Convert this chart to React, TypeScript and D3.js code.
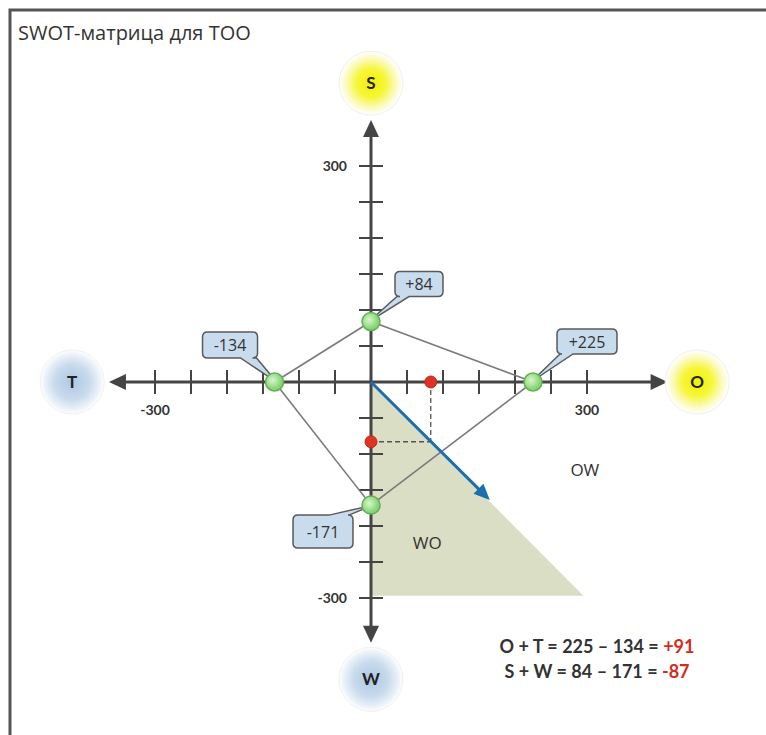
import React from 'react';
import {scaleLinear, range} from 'd3';

// SWOT scores
const axisNames = ['S', 'O', 'W', 'T'];
const axisScores = [84, 225, -171, -134];
const calloutLabels = ['+84', '+225', '-171', '-134'];
const tickValues = range(-300, 301, 50).filter((v) => v !== 0);
const tickLabels = ['300', '-300'];
const resultPoint = [83, -83];
const strategyEnd = [165, -164];
const woZone = [[0, 0], [0, -297], [295, -297]];
const quadrantLabels = ['OW', 'WO'];
const quadrantPos = [[297, -122], [78, -224]];
const formulaLines = ['O + T = 225 \u2013 134 = ', 'S + W = 84 \u2013 171 = '];
const formulaResults = ['+91', '-87'];

const width = 766;
const height = 735;
const origin = {x: 371, y: 382};
const unit = 0.72;

const x = scaleLinear().domain([-300, 300]).range([origin.x - 300 * unit, origin.x + 300 * unit]);
const y = scaleLinear().domain([-300, 300]).range([origin.y + 300 * unit, origin.y - 300 * unit]);

const axisColor = '#444';

// axis direction vectors for S, O, W, T
const dirs = [[0, 1], [1, 0], [0, -1], [-1, 0]];
const axisReach = [364, 412, 362, 364];
const bubbleDist = [415, 453, 413, 415];
const bubbleGlow = ['yellow', 'yellow', 'blue', 'blue'];

// callout boxes relative to their point: [left, top, right, bottom], tail base on an edge
const calloutBoxes = [
  {box: [24, -50, 72, -25], edge: 'bottom', base: [26, 38]},
  {box: [24, -53, 84, -28], edge: 'bottom', base: [27, 40]},
  {box: [-78, 10, -18, 43], edge: 'top', base: [-42, -22]},
  {box: [-72, -50, -17, -24], edge: 'bottom', base: [-34, -18]},
];

function calloutPath(px: number, py: number, c: any) {
  const [l, t, r, b] = c.box;
  const x0 = px + l, y0 = py + t, x1 = px + r, y1 = py + b;
  const rr = 5;
  const a = px + c.base[0], bb = px + c.base[1];
  const tipX = px - Math.sign(l + r) * 2;
  const tipY = py;
  if (c.edge === 'bottom') {
    return `M${x0 + rr},${y0} H${x1 - rr} Q${x1},${y0} ${x1},${y0 + rr} V${y1 - rr} Q${x1},${y1} ${x1 - rr},${y1}`
      + ` H${Math.max(a, bb)} L${tipX},${tipY} L${Math.min(a, bb)},${y1} H${x0 + rr} Q${x0},${y1} ${x0},${y1 - rr}`
      + ` V${y0 + rr} Q${x0},${y0} ${x0 + rr},${y0} Z`;
  }
  return `M${x0 + rr},${y0} H${Math.min(a, bb)} L${tipX},${tipY} L${Math.max(a, bb)},${y0} H${x1 - rr}`
    + ` Q${x1},${y0} ${x1},${y0 + rr} V${y1 - rr} Q${x1},${y1} ${x1 - rr},${y1} H${x0 + rr}`
    + ` Q${x0},${y1} ${x0},${y1 - rr} V${y0 + rr} Q${x0},${y0} ${x0 + rr},${y0} Z`;
}

function arrowHead(tx: number, ty: number, dx: number, dy: number, len: number, half: number) {
  const n = Math.hypot(dx, dy);
  const ux = dx / n, uy = dy / n;
  const bx = tx - ux * len, by = ty - uy * len;
  return `${tx},${ty} ${bx - uy * half},${by + ux * half} ${bx + uy * half},${by - ux * half}`;
}

export default function App() {
  // each score sits on its own half-axis, at its absolute value
  const pts = axisScores.map((v, i) => [x(dirs[i][0] * Math.abs(v)), y(dirs[i][1] * Math.abs(v))]);
  const [S, O, W, T] = pts;
  const rx = x(resultPoint[0]);
  const ry = y(resultPoint[1]);

  return (
    <svg width={width} height={height} style={{position: 'absolute', left: 0, top: 0, background: '#fff'}}>
      <defs>
        <radialGradient id="yellow">
          <stop offset="0%" stopColor="#f2f200" />
          <stop offset="45%" stopColor="#f6f63a" />
          <stop offset="80%" stopColor="#fbfbc8" />
          <stop offset="100%" stopColor="#ffffff" />
        </radialGradient>
        <radialGradient id="blue">
          <stop offset="0%" stopColor="#adc8e3" />
          <stop offset="55%" stopColor="#c9dbed" />
          <stop offset="85%" stopColor="#eaf1f8" />
          <stop offset="100%" stopColor="#ffffff" />
        </radialGradient>
        <radialGradient id="green" cx="40%" cy="40%">
          <stop offset="0%" stopColor="#d8f7cc" />
          <stop offset="100%" stopColor="#86d474" />
        </radialGradient>
      </defs>

      {/* frame */}
      <path d={`M10,${height + 5} V10 H${width + 5}`} fill="none" stroke="#555" strokeWidth={3} />
      <text x={18} y={40} fontFamily="Open Sans, sans-serif" fontSize={20} fill="#333">SWOT-матрица для ТОО</text>

      {/* WO zone */}
      <polygon points={woZone.map((p) => `${x(p[0])},${y(p[1])}`).join(' ')} fill="#d9dec4" />

      {/* axes */}
      {dirs.map((d, i) => {
        const ex = x(d[0] * axisReach[i]);
        const ey = y(d[1] * axisReach[i]);
        return (
          <g key={axisNames[i]}>
            <line x1={origin.x} y1={origin.y} x2={ex - d[0] * 10} y2={ey + d[1] * 10} stroke={axisColor} strokeWidth={3} />
            <polygon points={arrowHead(ex, ey, d[0], -d[1], 17, 8)} fill={axisColor} />
          </g>
        );
      })}
      {tickValues.map((v) => (
        <g key={`t${v}`}>
          <line x1={x(v)} x2={x(v)} y1={origin.y - 12} y2={origin.y + 12} stroke={axisColor} strokeWidth={2} />
          <line y1={y(v)} y2={y(v)} x1={origin.x - 12} x2={origin.x + 12} stroke={axisColor} strokeWidth={2} />
        </g>
      ))}
      <g fontFamily="Lato, sans-serif" fontWeight="bold" fontSize={14} fill="#333">
        <text x={x(-300)} y={origin.y + 33} textAnchor="middle">{tickLabels[1]}</text>
        <text x={x(300)} y={origin.y + 33} textAnchor="middle">{tickLabels[0]}</text>
        <text x={origin.x - 24} y={y(300) + 5} textAnchor="end">{tickLabels[0]}</text>
        <text x={origin.x - 24} y={y(-300) + 5} textAnchor="end">{tickLabels[1]}</text>
      </g>

      {/* axis bubbles */}
      {dirs.map((d, i) => (
        <g key={`b${i}`}>
          <circle cx={x(d[0] * bubbleDist[i])} cy={y(d[1] * bubbleDist[i])} r={32}
            fill={`url(#${bubbleGlow[i]})`} stroke="#f0f0f0" strokeWidth={1} />
          <text x={x(d[0] * bubbleDist[i])} y={y(d[1] * bubbleDist[i]) + 6} textAnchor="middle"
            fontFamily="Lato, sans-serif" fontWeight="bold" fontSize={17} fill="#222">{axisNames[i]}</text>
        </g>
      ))}

      {/* polygon connecting scores */}
      <g stroke="#7a7a7a" strokeWidth={1.6} fill="none">
        <line x1={S[0]} y1={S[1]} x2={T[0]} y2={T[1]} />
        <line x1={S[0]} y1={S[1]} x2={O[0]} y2={O[1]} />
        <line x1={W[0]} y1={W[1]} x2={T[0]} y2={T[1]} />
        <line x1={W[0]} y1={W[1]} x2={O[0]} y2={O[1]} />
      </g>

      {/* result projections */}
      <g stroke="#555" strokeWidth={1.3} strokeDasharray="5,3" fill="none">
        <line x1={rx} y1={origin.y} x2={rx} y2={ry} />
        <line x1={origin.x} y1={ry} x2={rx} y2={ry} />
      </g>

      {/* strategy vector */}
      <line x1={origin.x} y1={origin.y} x2={x(strategyEnd[0]) - 6} y2={y(strategyEnd[1]) - 6} stroke="#1b6fae" strokeWidth={3} />
      <polygon points={arrowHead(x(strategyEnd[0]), y(strategyEnd[1]), 1, 1, 16, 7)} fill="#1b6fae" />

      <circle cx={rx} cy={origin.y} r={6} fill="#dd3322" stroke="#c02818" strokeWidth={1} />
      <circle cx={origin.x} cy={ry} r={6} fill="#dd3322" stroke="#c02818" strokeWidth={1} />

      {/* callouts */}
      {pts.map((p, i) => {
        const c = calloutBoxes[i];
        const [l, t, r, b] = c.box;
        return (
          <g key={`c${i}`}>
            <path d={calloutPath(p[0], p[1], c)} fill="#c9dcee" stroke="#5a5a5a" strokeWidth={1.5} />
            <text x={p[0] + (l + r) / 2} y={p[1] + (t + b) / 2 + 6} textAnchor="middle"
              fontFamily="Open Sans, sans-serif" fontSize={16} fill="#333">{calloutLabels[i]}</text>
          </g>
        );
      })}
      {pts.map((p, i) => (
        <circle key={`p${i}`} cx={p[0]} cy={p[1]} r={9} fill="url(#green)" stroke="#64b054" strokeWidth={1.5} />
      ))}

      {/* quadrant labels */}
      {quadrantLabels.map((q, i) => (
        <text key={q} x={x(quadrantPos[i][0])} y={y(quadrantPos[i][1]) + 6} textAnchor="middle"
          fontFamily="Open Sans, sans-serif" fontSize={17} fill="#333">{q}</text>
      ))}

      {/* formula */}
      <g fontFamily="Lato, sans-serif" fontWeight="bold" fontSize={18} fill="#333" textAnchor="middle">
        {formulaLines.map((f, i) => (
          <text key={f} x={597} y={653 + i * 25}>
            {f}<tspan fill="#d42a20">{formulaResults[i]}</tspan>
          </text>
        ))}
      </g>
    </svg>
  );
}
